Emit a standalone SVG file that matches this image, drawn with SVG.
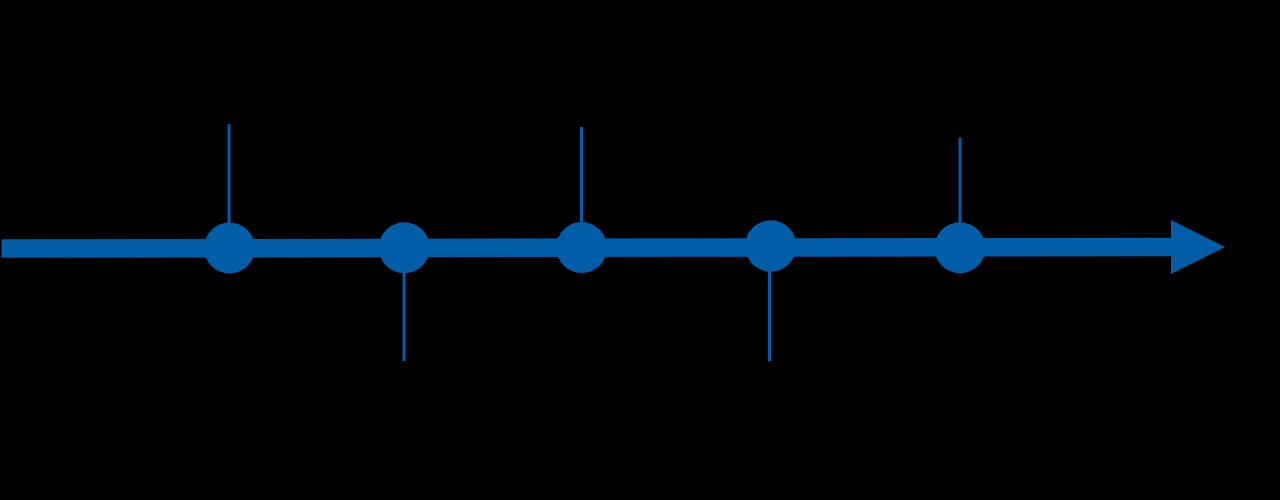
<svg xmlns="http://www.w3.org/2000/svg" width="1280" height="500" viewBox="0 0 1280 500">
<style>
.stem{stroke:#005DA6;stroke-width:3;fill:none}
.dot{fill:#005DA6}
.axis{fill:#005DA6}
</style>
<rect x="0" y="0" width="1280" height="500" fill="#000"/>
<g id="connectors">
<polygon class="axis" points="1.5,239.3 1171,237.7 1171,220 1225,247 1171,274 1171,256.3 1.5,257.7"/>
<line class="stem" x1="229" y1="124" x2="229" y2="240"/>
<line class="stem" x1="404" y1="256" x2="404" y2="361"/>
<line class="stem" x1="581.5" y1="127" x2="581.5" y2="240"/>
<line class="stem" x1="769.5" y1="256" x2="769.5" y2="361"/>
<line class="stem" x1="960" y1="137.5" x2="960" y2="240"/>
</g>
<g id="node1"><circle class="dot" cx="229.5" cy="248" r="25.5"/></g>
<g id="node2"><circle class="dot" cx="404.3" cy="247.8" r="25.5"/></g>
<g id="node3"><circle class="dot" cx="581.7" cy="247.5" r="25.5"/></g>
<g id="node4"><circle class="dot" cx="770.7" cy="246" r="25.7"/></g>
<g id="node5"><circle class="dot" cx="960" cy="247.8" r="25.5"/></g>
</svg>
